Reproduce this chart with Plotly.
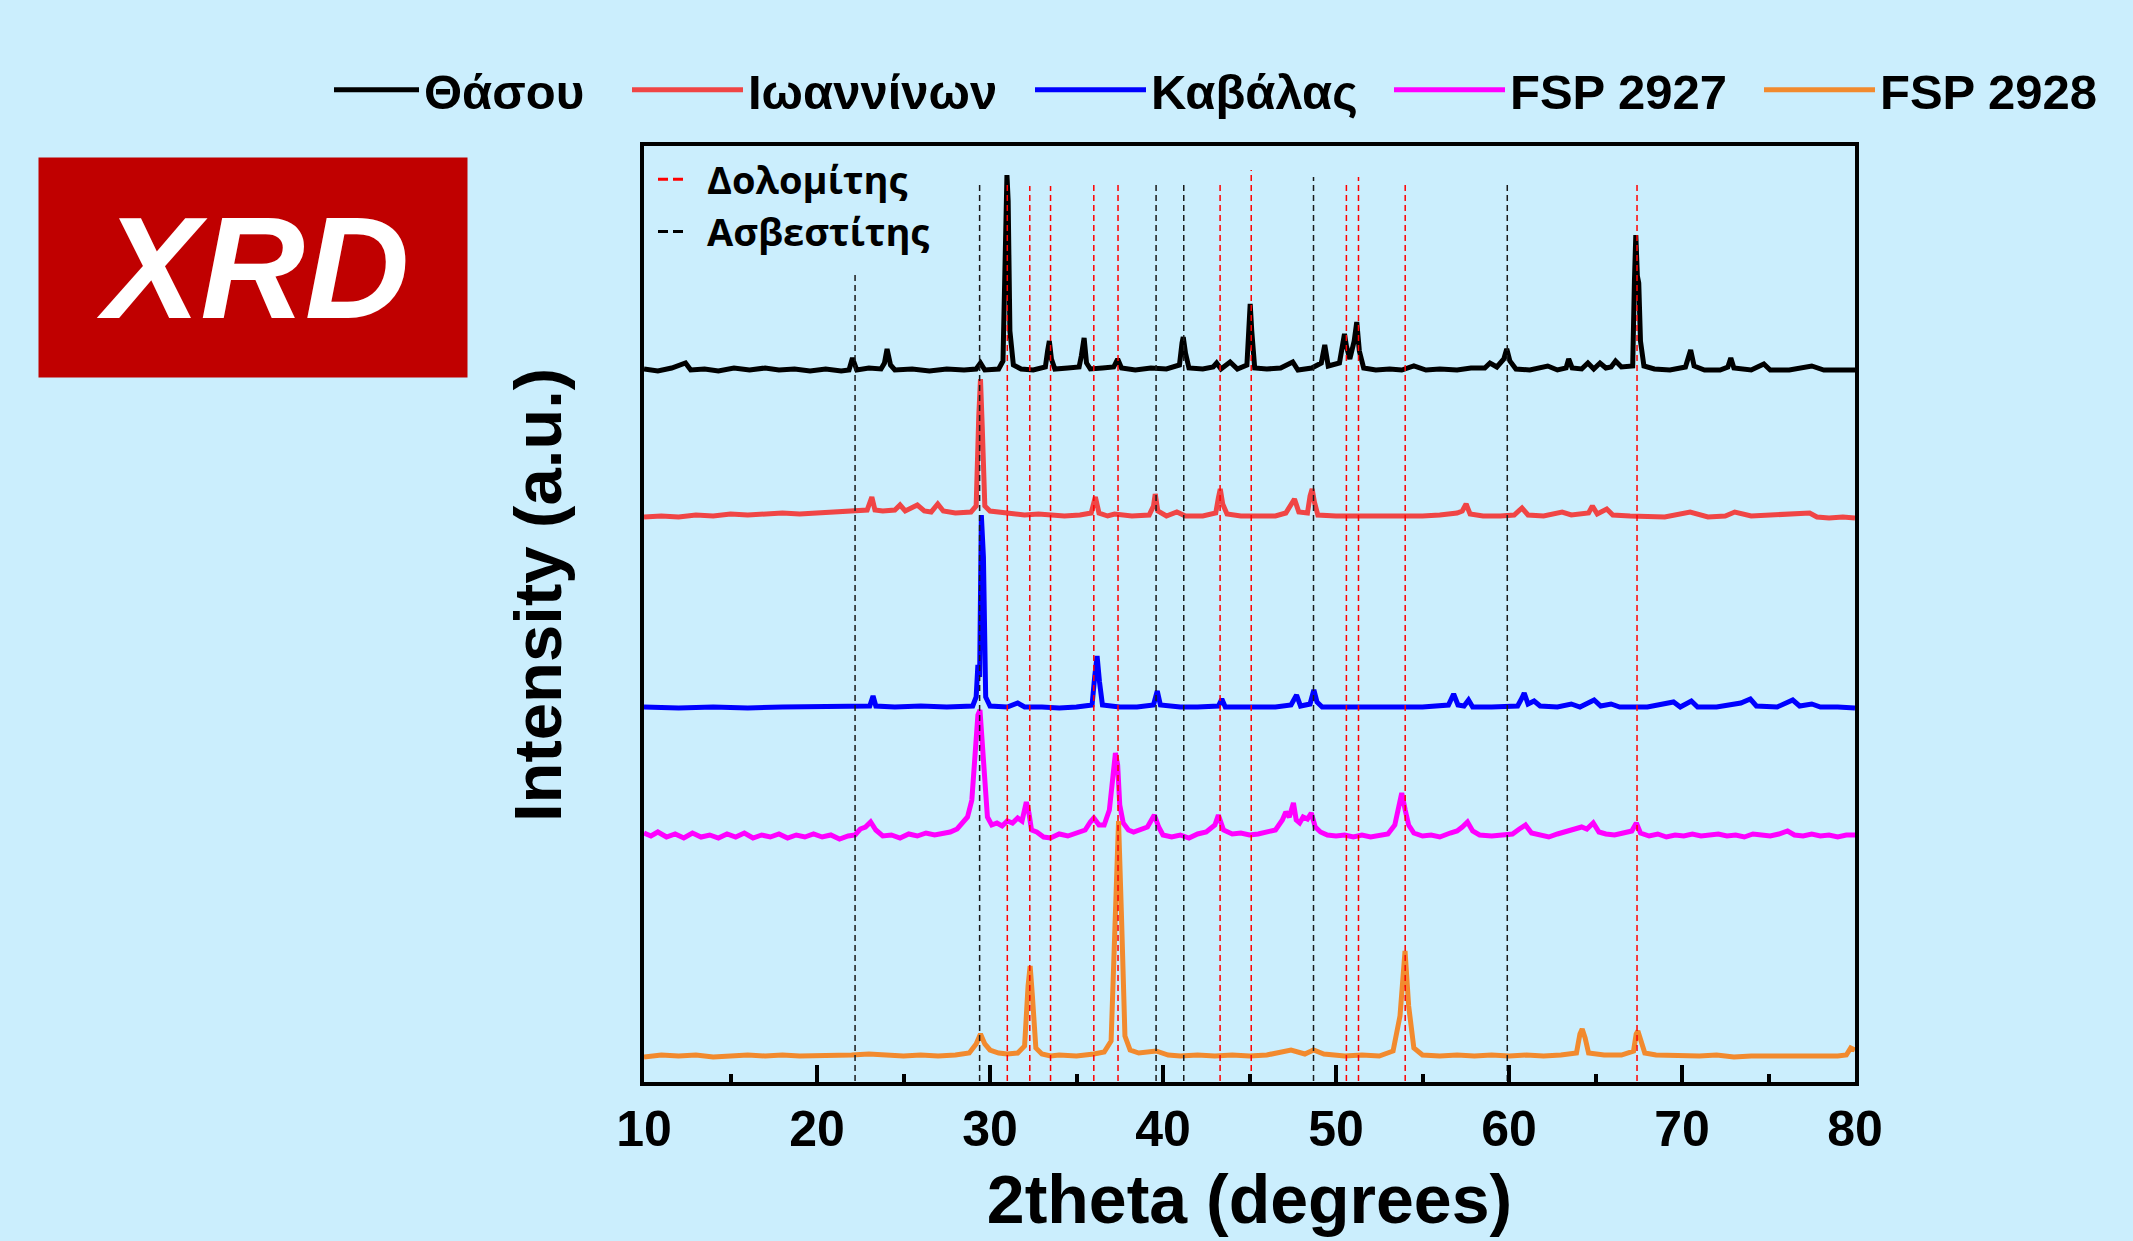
import plotly.graph_objects as go

# ---------------- data ----------------
# each series: (2theta [deg], intensity above its own baseline [a.u.])
thasou = [(10,2),(10.8,0),(11.6,3),(12.4,8),(12.7,1),(13.5,2),(14.3,0),(15.2,3),(16.1,1),(17,3),(17.8,1),(18.7,2),(19.6,0),(20.5,2),(21.4,0),(21.85,1),(22.05,13),(22.3,1),(23.0,3),(23.7,2),(23.9,8),(24.05,22),(24.25,6),(24.5,1),(25.5,2),(26.5,0),(27.5,2),(28.5,1),(29.2,2),(29.45,8),(29.7,1),(30.5,2),(30.75,10),(30.88,130),(30.98,196),(31.05,170),(31.15,40),(31.35,6),(31.8,2),(32.5,1),(33.2,4),(33.33,20),(33.43,30),(33.55,12),(33.75,2),(34.5,3),(35.15,4),(35.28,15),(35.44,33),(35.58,8),(35.8,2),(36.5,3),(37.15,4),(37.38,12),(37.6,3),(38.4,1),(39.3,3),(40.2,2),(40.95,6),(41.1,28),(41.17,34),(41.3,18),(41.5,3),(42.3,2),(42.9,4),(43.1,8),(43.35,2),(43.88,9),(44.3,2),(44.85,6),(44.95,45),(45.04,67),(45.13,40),(45.3,3),(46.0,2),(46.8,3),(47.5,9),(47.8,1),(48.6,3),(49.15,8),(49.35,26),(49.55,5),(50.2,8),(50.38,30),(50.49,37),(50.6,25),(50.8,12),(51.05,30),(51.2,49),(51.35,20),(51.6,3),(52.3,1),(53.1,2),(53.8,1),(54.5,5),(55.2,1),(56,2),(57,1),(57.8,3),(58.6,3),(58.9,8),(59.3,4),(59.7,12),(59.87,22),(60.05,10),(60.4,2),(61.2,1),(62.24,5),(62.8,1),(63.3,3),(63.45,12),(63.65,3),(64.2,2),(64.56,8),(64.9,2),(65.26,8),(65.6,3),(65.9,4),(66.16,10),(66.5,4),(67.15,5),(67.25,90),(67.33,136),(67.42,95),(67.5,88),(67.6,30),(67.8,5),(68.4,2),(69.3,1),(70.2,4),(70.35,12),(70.5,21),(70.7,5),(71.3,1),(72.2,1),(72.65,4),(72.82,13),(73.0,3),(74.0,1),(74.73,7),(75.1,1),(76.2,1),(77.5,5),(78.2,1),(79,1),(80,1)]

ioanninon = [(10,-1),(11,0),(12,-1),(13,1),(14,0),(15,2),(16,1),(17,2),(18,3),(19,2),(20,3),(21,4),(22,5),(22.9,6),(23.17,19),(23.35,6),(23.8,5),(24.5,6),(24.8,11),(25.1,5),(25.8,11),(26.2,5),(26.6,4),(26.98,12),(27.3,5),(28,3),(28.9,4),(29.2,10),(29.35,100),(29.45,137),(29.55,90),(29.7,10),(30.0,5),(30.6,4),(31.2,2),(32,1),(32.8,2),(33.4,1),(34.3,0),(35.2,1),(35.85,3),(36.09,19),(36.3,3),(36.8,0),(37.2,2),(38.2,0),(39.2,1),(39.45,10),(39.55,22),(39.7,5),(40.2,0),(40.8,4),(41.3,0),(42.3,0),(43.05,3),(43.2,18),(43.31,27),(43.45,12),(43.7,2),(44.5,0),(45.5,0),(46.5,0),(47.1,3),(47.35,10),(47.6,17),(47.85,4),(48.35,3),(48.5,20),(48.62,27),(48.75,14),(48.95,1),(50,0),(51,0),(52,-1),(53,0),(54,-1),(55,0),(56,1),(57.0,3),(57.3,5),(57.52,12),(57.75,2),(58.5,0),(59.5,0),(60.3,1),(60.75,8),(61.1,1),(62,0),(63.07,4),(63.6,1),(64.6,3),(64.82,10),(65.1,2),(65.65,7),(66.0,1),(67,0),(68,0),(69,-1),(70.47,4),(71.5,-1),(72.5,0),(73.05,4),(74,0),(75,1),(76.2,1),(77.38,3),(77.8,-1),(78.5,-2),(79.3,-1),(80,-2)]

kavalas = [(10,0),(12,-1),(14,0),(16,-1),(18,0),(20,0),(22,0),(23.05,1),(23.24,11),(23.4,1),(24.5,0),(26,1),(27.5,0),(29.0,1),(29.2,10),(29.3,42),(29.4,30),(29.5,192),(29.62,150),(29.75,10),(30.0,1),(31.0,0),(31.6,4),(32.0,0),(33,0),(34,-1),(35,0),(35.9,2),(36.05,30),(36.19,51),(36.33,25),(36.5,2),(37.5,0),(38.5,0),(39.45,2),(39.67,16),(39.85,2),(41,0),(42,0),(43.2,1),(43.4,8),(43.6,0),(45,0),(46.5,0),(47.4,2),(47.72,12),(47.95,1),(48.5,3),(48.72,17),(48.9,5),(49.2,0),(50.5,0),(52,0),(53.5,0),(55,0),(56.5,2),(56.8,13),(57.05,2),(57.4,1),(57.66,7),(57.9,0),(59,0),(60.5,1),(60.75,9),(60.88,14),(61.1,3),(61.45,6),(61.8,1),(62.8,0),(63.6,3),(64.1,0),(64.92,7),(65.3,1),(65.9,3),(66.4,0),(68,0),(69.51,5),(69.9,0),(70.54,6),(70.9,0),(72,0),(73.4,4),(73.95,8),(74.3,1),(75.5,0),(76.4,7),(76.8,1),(77.5,3),(78,0),(79,0),(80,-1)]

fsp2927 = [(10,2),(10.4,-1),(10.8,3),(11.3,-2),(11.8,1),(12.3,-3),(12.8,2),(13.3,-2),(13.8,0),(14.3,-3),(14.8,1),(15.3,-2),(15.8,2),(16.3,-3),(16.8,0),(17.3,-2),(17.8,1),(18.3,-3),(18.8,0),(19.3,-2),(19.8,1),(20.3,-2),(20.8,0),(21.3,-4),(21.8,-1),(22.2,0),(22.5,6),(22.8,8),(23.1,13),(23.4,5),(23.8,-1),(24.3,0),(24.8,-3),(25.3,1),(25.8,-1),(26.3,2),(26.8,0),(27.3,2),(27.7,3),(28.1,6),(28.4,12),(28.7,18),(28.95,35),(29.15,80),(29.3,120),(29.42,125),(29.55,90),(29.7,45),(29.85,18),(30.1,10),(30.4,12),(30.7,9),(31.0,14),(31.3,12),(31.6,17),(31.85,14),(32.0,25),(32.1,33),(32.25,22),(32.4,5),(32.7,3),(33.1,-2),(33.5,-3),(34.0,1),(34.5,-1),(35.0,2),(35.5,5),(35.8,13),(36.0,17),(36.3,10),(36.6,10),(36.9,25),(37.1,60),(37.25,82),(37.38,70),(37.5,30),(37.7,12),(38.0,5),(38.3,3),(38.7,6),(39.1,8),(39.5,20),(39.75,8),(40.0,0),(40.5,-2),(41.0,0),(41.5,-3),(42.0,1),(42.5,3),(43.0,10),(43.2,20),(43.5,5),(44.0,1),(44.5,2),(45.0,0),(45.5,1),(46.0,3),(46.5,5),(46.9,15),(47.1,23),(47.3,18),(47.54,32),(47.7,15),(47.9,12),(48.1,18),(48.35,16),(48.57,22),(48.8,8),(49.1,3),(49.5,0),(50.0,-1),(50.5,0),(51.0,-2),(51.5,0),(52.0,-2),(52.5,0),(53.0,1),(53.4,10),(53.65,30),(53.8,42),(54.0,25),(54.2,10),(54.5,2),(55,-1),(55.5,0),(56.0,-2),(56.6,2),(57.0,4),(57.3,8),(57.6,13),(57.9,4),(58.3,0),(59.0,-1),(59.6,0),(60.2,1),(60.6,6),(60.95,10),(61.3,2),(61.8,0),(62.3,-2),(62.8,1),(63.3,3),(63.8,6),(64.2,8),(64.5,6),(64.87,12),(65.2,3),(65.6,1),(66.1,0),(66.6,2),(67.1,4),(67.36,12),(67.6,2),(68.1,-1),(68.6,1),(69.1,-2),(69.6,0),(70.1,-1),(70.6,1),(71.1,-1),(71.6,0),(72.1,1),(72.6,-1),(73.1,0),(73.6,-2),(74.1,1),(74.6,0),(75.1,-1),(75.6,1),(76.1,4),(76.5,0),(77.0,-1),(77.5,1),(78.0,-1),(78.5,0),(79.0,-2),(79.5,0),(80,0)]

fsp2928 = [(10,-1),(11,1),(12,0),(13,1),(14,-1),(15,0),(16,1),(17,0),(18,1),(19,0),(20,0),(21,1),(22,1),(23,2),(24,1),(25,0),(26,1),(27,0),(28,1),(28.8,3),(29.2,12),(29.45,22),(29.7,12),(30.0,6),(30.5,3),(31.0,2),(31.6,3),(32.0,10),(32.2,70),(32.32,90),(32.45,60),(32.65,8),(33.0,2),(33.5,0),(34,1),(35,0),(36,2),(36.6,4),(37.0,15),(37.25,150),(37.43,235),(37.6,140),(37.8,20),(38.1,6),(38.6,3),(39.6,5),(40.3,1),(41,0),(42,1),(43,0),(44,1),(45,0),(46,1),(47.4,6),(48.2,2),(48.7,6),(49.3,2),(50.5,0),(51.5,1),(52.5,0),(53.3,5),(53.7,40),(53.99,105),(54.2,50),(54.5,8),(55,1),(56,0),(57,1),(58,0),(59,1),(60,0),(61,1),(62,0),(63,1),(63.9,3),(64.1,22),(64.23,27),(64.4,18),(64.6,3),(65.5,1),(66.5,1),(67.2,5),(67.35,22),(67.45,25),(67.6,16),(67.85,3),(68.5,1),(70,0),(71,0),(72,1),(73,-1),(74,0),(75,0),(76,-1),(77,0),(78,0),(79,0),(79.5,1),(79.75,8),(80,6)]

series_names = ["Θάσου", "Ιωαννίνων", "Καβάλας", "FSP 2927", "FSP 2928"]
series_data = [thasou, ioanninon, kavalas, fsp2927, fsp2928]

# reference peak positions (2theta)
dolomite_pos = [31.0, 32.3, 33.5, 36.0, 37.4, 43.3, 45.1, 50.6, 51.3, 54.0, 67.4]
calcite_pos = [22.2, 29.4, 39.6, 41.2, 48.7, 59.9]
ref_names = ["Δολομίτης", "Ασβεστίτης"]

x_ticks = [10, 20, 30, 40, 50, 60, 70, 80]

# ---------------- styling / layout ----------------
BG = "#CBEEFD"
colors = ["#000000", "#F04545", "#0000FF", "#FF00FF", "#F28A2E"]
offsets = [710, 565, 374, 246, 25]           # vertical stacking of the patterns
dolomite_top = [897, 895, 895, 897, 897, 897, 911, 900, 904, 897, 897]
calcite_top = [808, 897, 897, 897, 904, 897]

# plot-area geometry (px)
W, H = 2133, 1241
L, R, T, B = 644, 1855, 146, 1082
PW, PH = R - L, B - T


def px(x):
    return (x - L) / PW


def py(y):
    return (B - y) / PH


MAIN = "Liberation Sans, Arial, sans-serif"

# top legend: one legend box per entry so that each sits where it does in the original
legend_ids = ["legend", "legend3", "legend4", "legend5", "legend6"]
legend_text_x = [426, 750, 1153, 1512, 1882]     # left edge of each legend label (px)
legend_sample = [85, 111, 111, 111, 111]          # sample-line length (px)

fig = go.Figure()

for name, data, color, off, lid in zip(series_names, series_data, colors, offsets, legend_ids):
    xs = [p[0] for p in data]
    ys = [p[1] + off for p in data]
    fig.add_trace(go.Scatter(x=xs, y=ys, mode="lines", name=name,
                             line=dict(color=color, width=5), legend=lid))


def vlines(pos, tops):
    xs, ys = [], []
    for p, t in zip(pos, tops):
        xs += [p, p, None]
        ys += [0, t, None]
    return xs, ys


for pos, tops, col in [(dolomite_pos, dolomite_top, "#FF0000"),
                       (calcite_pos, calcite_top, "#1A1A1A")]:
    xs, ys = vlines(pos, tops)
    fig.add_trace(go.Scatter(x=xs, y=ys, mode="lines", showlegend=False,
                             hoverinfo="skip",
                             line=dict(color=col, width=1.5, dash="6px,4px")))

# legend proxies for the reference-line families
for nm, col in zip(ref_names, ["#FF0000", "#000000"]):
    fig.add_trace(go.Scatter(x=[None], y=[None], mode="lines", name=nm,
                             legend="legend2",
                             line=dict(color=col, width=3, dash="10px,5px,10px,300px")))

legend_font = dict(family=MAIN, size=49, weight="bold", color="black")
layout_legends = {}
for lid, tx, iw in zip(legend_ids, legend_text_x, legend_sample):
    layout_legends[lid] = dict(orientation="h", x=px(tx - iw - 12), y=py(90),
                               xanchor="left", yanchor="middle", itemwidth=iw,
                               bgcolor="rgba(0,0,0,0)", font=legend_font)

fig.update_layout(
    width=W, height=H,
    margin=dict(l=L, r=W - R, t=T, b=H - B, pad=0),
    paper_bgcolor=BG, plot_bgcolor=BG,
    font=dict(family=MAIN, color="black"),
    showlegend=True,
    legend2=dict(orientation="v", x=px(653), y=py(148), xanchor="left",
                 yanchor="top", itemwidth=44, bgcolor="rgba(0,0,0,0)",
                 font=dict(family="Open Sans, Noto Sans, sans-serif", size=38,
                           weight="bold", color="black"),
                 tracegroupgap=0),
    xaxis=dict(range=[10, 80], tickvals=x_ticks, ticktext=[str(v) for v in x_ticks],
               showline=True, linewidth=4, linecolor="black", mirror=True,
               ticks="inside", ticklen=17, tickwidth=4, tickcolor="black",
               tickfont=dict(family=MAIN, size=50, weight="bold", color="black"),
               minor=dict(ticks="inside", ticklen=8, tickwidth=4, tickcolor="black",
                          dtick=5, tick0=15),
               showgrid=False, zeroline=False,
               title=dict(text="2theta (degrees)", standoff=20,
                          font=dict(family=MAIN, size=68, weight="bold", color="black"))),
    yaxis=dict(range=[-1, PH - 1], showline=True, linewidth=4, linecolor="black",
               mirror=True, ticks="", showticklabels=False, showgrid=False,
               zeroline=False),
    **layout_legends,
)

# y axis title placed to match the reference
fig.add_annotation(text="Intensity (a.u.)", xref="paper", yref="paper",
                   x=px(537), y=py(595), textangle=-90, showarrow=False,
                   xanchor="center", yanchor="middle",
                   font=dict(family=MAIN, size=67, weight="bold", color="black"))

# XRD badge
fig.add_annotation(text="<b><i>XRD</i></b>", xref="paper", yref="paper",
                   x=px(253), y=py(267.5), showarrow=False,
                   xanchor="center", yanchor="middle",
                   width=428, height=219, bgcolor="#C00000", borderpad=0,
                   font=dict(family=MAIN, size=145, color="white"))

fig.write_html("out.html")
